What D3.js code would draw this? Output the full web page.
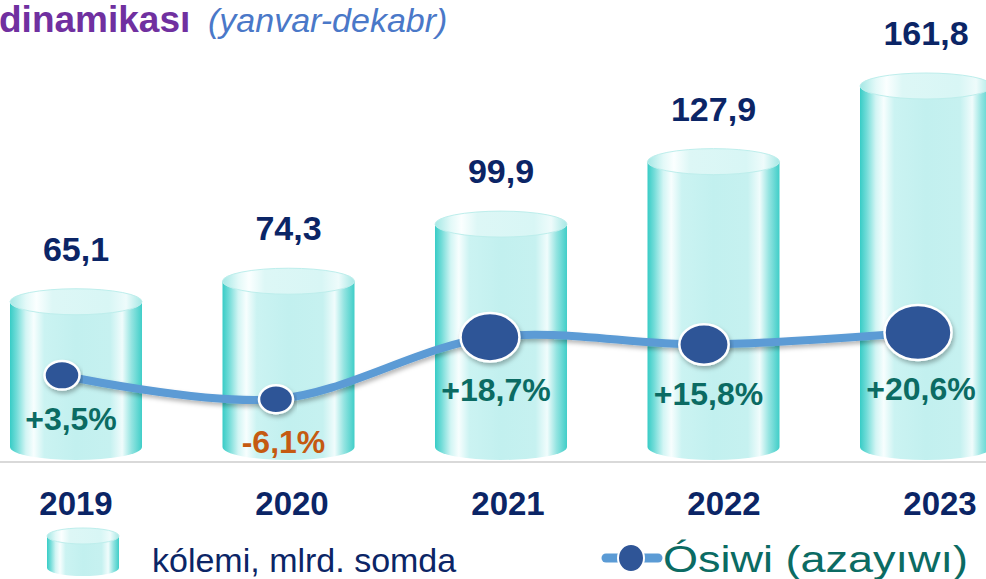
<!DOCTYPE html>
<html>
<head>
<meta charset="utf-8">
<script src="https://cdn.jsdelivr.net/npm/d3@7"></script>
<style>
  html, body { margin: 0; padding: 0; background: #fff; overflow: hidden; }
  svg { display: block; font-family: "Liberation Sans", Arial, sans-serif; }
</style>
</head>
<body>
<svg id="chart" width="986" height="579"></svg>
<script>
const years = ["2019", "2020", "2021", "2022", "2023"];
const volume = [65.1, 74.3, 99.9, 127.9, 161.8];
const growth = [3.5, -6.1, 18.7, 15.8, 20.6];
const titleMain = "dinamikası";
const titleSub = "(yanvar-dekabr)";
const legendVolume = "kólemi, mlrd. somda";
const legendGrowth = "Ósiwi (azayıwı)";

const comma = f => v => f(v).replace(".", ",").replace("\u2212", "-");
const fmtVol = comma(d3.format(".1f"));
const fmtGr = comma(d3.format("+.1f"));

const svg = d3.select("#chart");
const defs = svg.append("defs");

// gradients
function hGrad(id, stops) {
  const g = defs.append("linearGradient").attr("id", id)
    .attr("x1", "0%").attr("x2", "100%").attr("y1", "0%").attr("y2", "0%");
  stops.forEach(([o, c]) => g.append("stop").attr("offset", o).attr("stop-color", c));
}
hGrad("body", [
  ["0%", "#37CCC6"], ["5%", "#72DCD8"], ["12%", "#D2F5F4"], ["18%", "#F7FEFE"],
  ["26%", "#CBF3F2"], ["50%", "#C2F0EF"], ["76%", "#C6F1F0"], ["85%", "#F0FCFC"],
  ["92%", "#94E4E1"], ["100%", "#40CEC8"]
]);
hGrad("top", [
  ["0%", "#A4E8E5"], ["12%", "#E3F9F8"], ["20%", "#FBFFFF"], ["32%", "#DDF7F6"],
  ["75%", "#D8F6F5"], ["88%", "#EEFBFB"], ["100%", "#A6E8E5"]
]);
const sh = defs.append("filter").attr("id", "shadow")
  .attr("x", "-10%").attr("y", "-50%").attr("width", "120%").attr("height", "200%");
sh.append("feDropShadow").attr("dx", 1.5).attr("dy", 3).attr("stdDeviation", 2)
  .attr("flood-color", "#000").attr("flood-opacity", 0.28);

// scales
const xCyl = d3.scalePoint().domain(years).range([76, 926]);
const xYear = d3.scalePoint().domain(years).range([76, 940]);
const xLine = d3.scalePoint().domain(years).range([62, 918]);
const yVol = d3.scaleLinear().domain([0, 161.8]).range([447, 86]);
const yGr = d3.scaleLinear().domain([0, 20]).range([384, 334]);
const rMark = d3.scalePow().exponent(3).domain([-6.1, 20.6]).range([17, 33.5]);

const RX = 66, RY = 13;

// baseline
svg.append("line").attr("x1", 0).attr("x2", 986).attr("y1", 462).attr("y2", 462)
  .attr("stroke", "#D9D9D9").attr("stroke-width", 2);

function cylinder(g, cx, yt, yb, rx, ry) {
  g.append("path")
    .attr("d", `M${cx - rx},${yt} L${cx - rx},${yb} A${rx},${ry} 0 0 0 ${cx + rx},${yb} L${cx + rx},${yt} Z`)
    .attr("fill", "url(#body)");
  g.append("ellipse").attr("cx", cx).attr("cy", yt).attr("rx", rx).attr("ry", ry)
    .attr("fill", "url(#top)").attr("stroke", "#BDEEEC").attr("stroke-width", 1);
}

const data = years.map((y, i) => ({ year: y, vol: volume[i], gr: growth[i] }));

// cylinders
const cyl = svg.append("g");
data.forEach(d => cylinder(cyl, xCyl(d.year), yVol(d.vol), yVol(0), RX, RY));

// volume labels
svg.append("g").selectAll("text").data(data).join("text")
  .attr("x", d => xCyl(d.year))
  .attr("y", d => yVol(d.vol) - RY - 28)
  .attr("text-anchor", "middle")
  .attr("font-size", 34).attr("font-weight", "bold").attr("fill", "#0B2566")
  .text(d => fmtVol(d.vol));

// year labels
svg.append("g").selectAll("text").data(data).join("text")
  .attr("x", d => xYear(d.year)).attr("y", 515)
  .attr("text-anchor", "middle")
  .attr("font-size", 33).attr("font-weight", "bold").attr("fill", "#0B2566")
  .text(d => d.year);

// growth line
const line = d3.line().x(d => xLine(d.year)).y(d => yGr(d.gr)).curve(d3.curveCatmullRom.alpha(0.5));
svg.append("path").datum(data).attr("d", line)
  .attr("fill", "none").attr("stroke", "#5B9BD5").attr("stroke-width", 8)
  .attr("stroke-linecap", "round").attr("filter", "url(#shadow)");

svg.append("g").selectAll("ellipse").data(data).join("ellipse")
  .attr("cx", d => xLine(d.year)).attr("cy", d => yGr(d.gr))
  .attr("rx", d => rMark(d.gr)).attr("ry", d => rMark(d.gr) * 0.82)
  .attr("fill", "#2F5597").attr("stroke", "#fff").attr("stroke-width", 2.5)
  .attr("filter", "url(#shadow)");

// growth labels
svg.append("g").selectAll("text").data(data).join("text")
  .attr("x", d => xCyl(d.year) - 5)
  .attr("y", d => yGr(d.gr) + rMark(d.gr) * 0.82 + 40)
  .attr("text-anchor", "middle")
  .attr("font-size", 32).attr("font-weight", "bold")
  .attr("fill", d => d.gr < 0 ? "#C55A11" : "#0B6B63")
  .text(d => fmtGr(d.gr) + "%");

// title
const t = svg.append("text").attr("x", -1).attr("y", 32);
t.append("tspan").attr("font-size", 37).attr("font-weight", "bold").attr("fill", "#7030A0").text(titleMain);
t.append("tspan").attr("x", 208).attr("font-size", 34).attr("font-style", "italic").attr("fill", "#4A78C8").text(titleSub);

// legend
const lg = svg.append("g");
cylinder(lg, 83, 536, 568, 36, 8);
lg.append("text").attr("x", 152).attr("y", 572).attr("font-size", 34).attr("fill", "#0B2566").text(legendVolume);
lg.append("line").attr("x1", 606).attr("x2", 658).attr("y1", 558).attr("y2", 558)
  .attr("stroke", "#5B9BD5").attr("stroke-width", 9).attr("stroke-linecap", "round");
lg.append("ellipse").attr("cx", 631).attr("cy", 558).attr("rx", 13).attr("ry", 14)
  .attr("fill", "#2F5597").attr("stroke", "#fff").attr("stroke-width", 2);
lg.append("text").attr("x", 663).attr("y", 572).attr("font-size", 37)
  .attr("textLength", 305).attr("lengthAdjust", "spacingAndGlyphs")
  .attr("fill", "#0B6B63").text(legendGrowth);
</script>
</body>
</html>
